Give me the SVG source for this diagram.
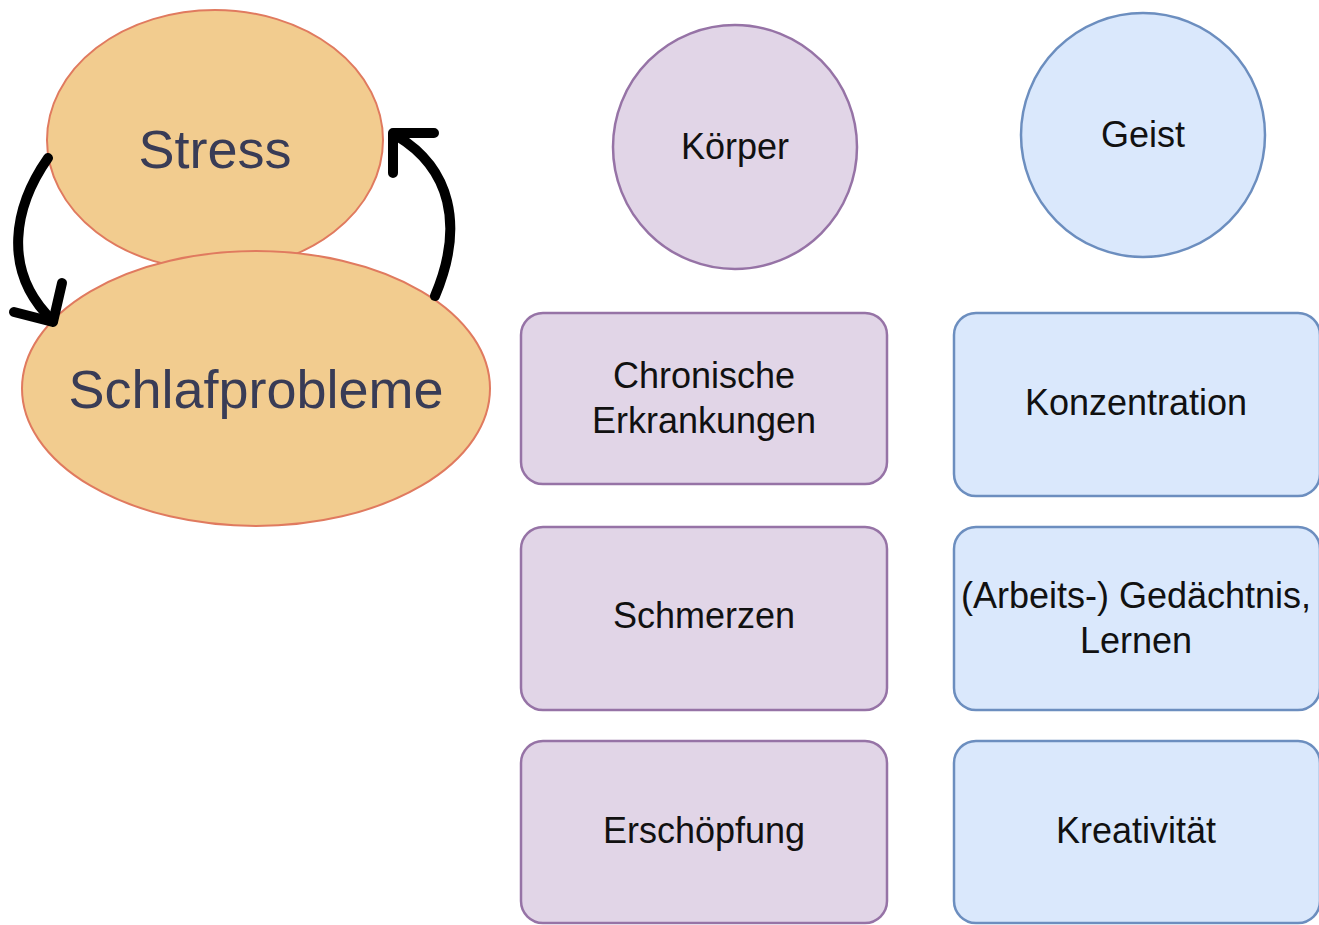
<svg xmlns="http://www.w3.org/2000/svg" width="1319" height="925" viewBox="0 0 1319 925">
<style>
  .org { fill: #F2CC8F; stroke: #E07A5F; stroke-width: 2; }
  .orgt { font-family: "Liberation Sans", Arial, sans-serif; font-size: 54px; fill: #393C56; text-anchor: middle; }
  .pur { fill: #E1D5E7; stroke: #9673A6; stroke-width: 2.5; }
  .blu { fill: #DAE8FC; stroke: #6C8EBF; stroke-width: 2.5; }
  .t { font-family: "Liberation Sans", Arial, sans-serif; font-size: 36px; fill: #111111; text-anchor: middle; }
  .arr { fill: none; stroke: #000000; stroke-width: 10; stroke-linecap: round; stroke-linejoin: round; }
</style>
<rect width="1319" height="925" fill="#FFFFFF"/>
<g id="stress">
  <ellipse class="org" cx="215" cy="140" rx="168" ry="130"/>
  <text class="orgt" x="215" y="168">Stress</text>
</g>
<g id="schlafprobleme">
  <ellipse class="org" cx="256" cy="388.5" rx="234" ry="137.5"/>
  <text class="orgt" x="256" y="408">Schlafprobleme</text>
</g>
<g id="koerper">
  <circle class="pur" cx="735" cy="147" r="122"/>
  <text class="t" x="735" y="159">Körper</text>
</g>
<g id="geist">
  <circle class="blu" cx="1143" cy="135" r="122"/>
  <text class="t" x="1143" y="147">Geist</text>
</g>
<g id="chronische">
  <rect class="pur" x="521" y="313" width="366" height="171" rx="22"/>
  <text class="t" x="704" y="388">Chronische</text>
  <text class="t" x="704" y="433">Erkrankungen</text>
</g>
<g id="schmerzen">
  <rect class="pur" x="521" y="527" width="366" height="183" rx="22"/>
  <text class="t" x="704" y="628">Schmerzen</text>
</g>
<g id="erschoepfung">
  <rect class="pur" x="521" y="741" width="366" height="182" rx="22"/>
  <text class="t" x="704" y="843">Erschöpfung</text>
</g>
<g id="konzentration">
  <rect class="blu" x="954" y="313" width="366" height="183" rx="22"/>
  <text class="t" x="1136" y="415">Konzentration</text>
</g>
<g id="gedaechtnis">
  <rect class="blu" x="954" y="527" width="366" height="183" rx="22"/>
  <text class="t" x="1136" y="608">(Arbeits-) Gedächtnis,</text>
  <text class="t" x="1136" y="653">Lernen</text>
</g>
<g id="kreativitaet">
  <rect class="blu" x="954" y="741" width="366" height="182" rx="22"/>
  <text class="t" x="1136" y="843">Kreativität</text>
</g>
<g id="connectors">
  <path class="arr" d="M48,158 C15,205 0,270 53,321"/>
  <path class="arr" d="M14,312 L53,322 L62,283"/>
  <path class="arr" d="M435,296 C465,225 450,168 397,136"/>
  <path class="arr" d="M434,133 L393,133 L393,173"/>
</g>
</svg>
